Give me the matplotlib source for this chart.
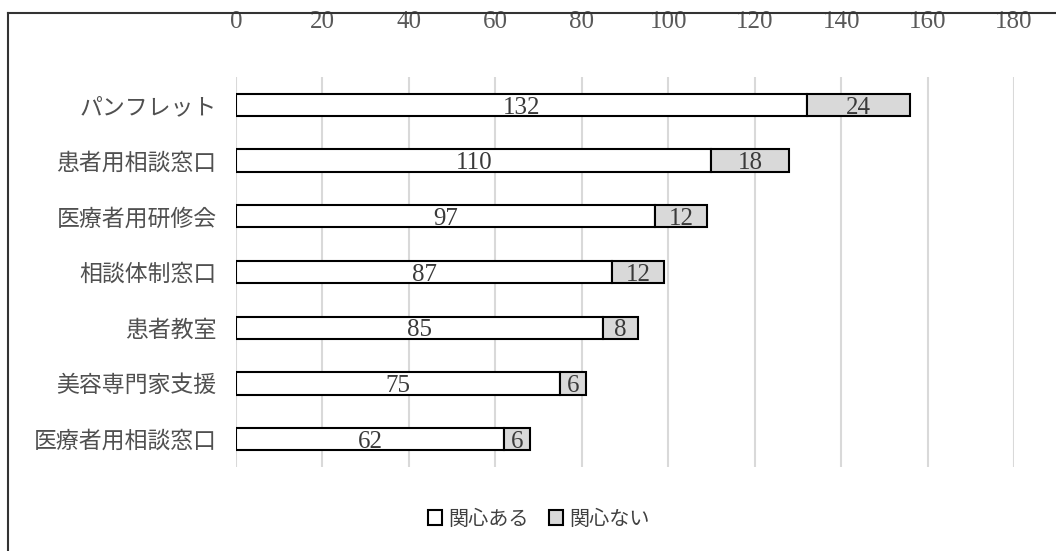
import matplotlib
matplotlib.use("Agg")
import matplotlib.pyplot as plt
from matplotlib.patches import Patch
from matplotlib.lines import Line2D

categories = ["パンフレット", "患者用相談窓口", "医療者用研修会", "相談体制窓口",
              "患者教室", "美容専門家支援", "医療者用相談窓口"]
interested = [132, 110, 97, 87, 85, 75, 62]
not_interested = [24, 18, 12, 12, 8, 6, 6]
series_names = ["関心ある", "関心ない"]
xticks = [0, 20, 40, 60, 80, 100, 120, 140, 160, 180]

plt.rcParams["font.family"] = ["Noto Sans CJK JP", "DejaVu Sans"]

fig = plt.figure(figsize=(10.56, 5.51), dpi=100)
ax = fig.add_axes([236 / 1056, 1 - 467 / 551, (1014 - 236) / 1056, 390 / 551])

ypos = list(range(len(categories)))
ax.barh(ypos, interested, height=0.4, color="white", edgecolor="black",
        linewidth=1.5, zorder=3)
ax.barh(ypos, not_interested, left=interested, height=0.4, color="#d9d9d9",
        edgecolor="black", linewidth=1.5, zorder=3)

for y, a, b in zip(ypos, interested, not_interested):
    ax.text(a / 2, y + 0.05, str(a), ha="center", va="center",
            family="Liberation Serif", fontsize=18, color="#3a3a3a", zorder=4)
    ax.text(a + b / 2, y + 0.05, str(b), ha="center", va="center",
            family="Liberation Serif", fontsize=18, color="#3a3a3a", zorder=4)

ax.set_xlim(0, 180)
ax.set_ylim(len(categories) - 0.5, -0.5)
ax.set_xticks(xticks)
ax.xaxis.tick_top()
ax.set_xticklabels([str(t) for t in xticks], family="Liberation Serif",
                   fontsize=18, color="#595959")
ax.set_yticks(ypos)
ax.set_yticklabels(categories, fontsize=16.5, color="#505050")
ax.tick_params(axis="x", length=0, pad=32)
ax.tick_params(axis="y", length=0, pad=14)
ax.grid(axis="x", color="#d9d9d9", linewidth=1.5, zorder=0)
for s in ax.spines.values():
    s.set_visible(False)

handles = [Patch(facecolor="white", edgecolor="black", linewidth=1.5),
           Patch(facecolor="#d9d9d9", edgecolor="black", linewidth=1.5)]
leg = fig.legend(handles, series_names, loc="center", bbox_to_anchor=(0.51, 1 - 519 / 551),
                 ncol=2, frameon=False, fontsize=14.5, handlelength=0.7, handleheight=0.7,
                 handletextpad=0.3, columnspacing=1.0)
for t in leg.get_texts():
    t.set_color("#404040")

# outer frame (top and left edges)
fig.add_artist(Line2D([8 / 1056, 1], [1 - 13 / 551, 1 - 13 / 551], color="#333333", linewidth=1.5))
fig.add_artist(Line2D([8 / 1056, 8 / 1056], [0, 1 - 13 / 551], color="#333333", linewidth=1.5))

fig.savefig("out.png", dpi=100, facecolor="white")
